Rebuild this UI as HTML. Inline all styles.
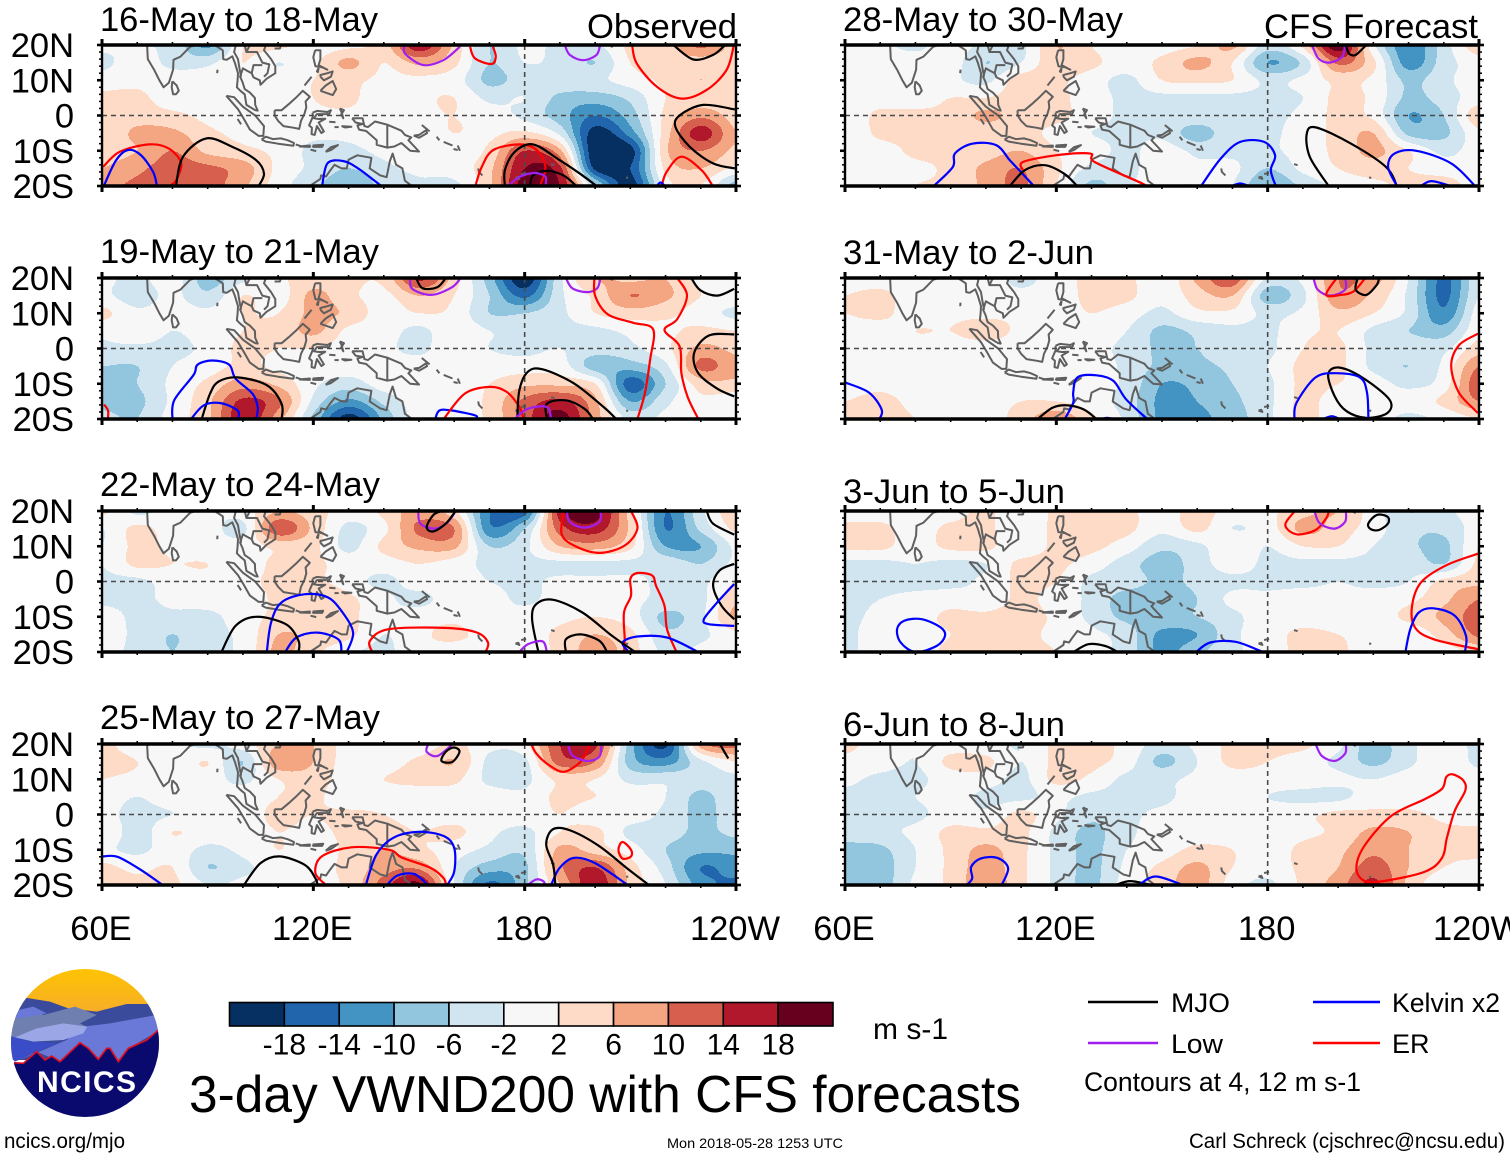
<!DOCTYPE html>
<html lang="en">
<head>
<meta charset="utf-8">
<title>3-day VWND200 with CFS forecasts</title>
<style>
html,body{margin:0;padding:0;background:#fff;width:1510px;height:1158px;overflow:hidden}
svg{display:block;font-family:"Liberation Sans",Arial,sans-serif;fill:#000}
</style>
</head>
<body>
<svg id="chart" xmlns="http://www.w3.org/2000/svg" width="1510" height="1158" viewBox="0 0 1510 1158">
<rect width="1510" height="1158" fill="#fff"/>
<defs><clipPath id="logoClip"><circle cx="85" cy="1043" r="74"/></clipPath>
<linearGradient id="sunGrad" x1="0" y1="0" x2="0" y2="1"><stop offset="0" stop-color="#ffc400"/><stop offset="1" stop-color="#f2a43a"/></linearGradient></defs>
<g id="panels"></g>
<g id="colorbar"></g>
<text x="873" y="1039" font-size="30" textLength="75" lengthAdjust="spacingAndGlyphs">m s-1</text>
<text x="189" y="1112" font-size="52" textLength="832" lengthAdjust="spacingAndGlyphs">3-day VWND200 with CFS forecasts</text>
<g>
<line x1="1088" x2="1158" y1="1002" y2="1002" stroke="#000" stroke-width="2.5"/>
<text x="1171" y="1012" font-size="27" textLength="59" lengthAdjust="spacingAndGlyphs">MJO</text>
<line x1="1088" x2="1158" y1="1043" y2="1043" stroke="#a020f0" stroke-width="2.5"/>
<text x="1171" y="1053" font-size="27" textLength="52" lengthAdjust="spacingAndGlyphs">Low</text>
<line x1="1313" x2="1380" y1="1002" y2="1002" stroke="#0000ff" stroke-width="2.5"/>
<text x="1392" y="1012" font-size="27" textLength="108" lengthAdjust="spacingAndGlyphs">Kelvin x2</text>
<line x1="1313" x2="1380" y1="1043" y2="1043" stroke="#ff0000" stroke-width="2.5"/>
<text x="1392" y="1053" font-size="27">ER</text>
<text x="1084" y="1091" font-size="27" textLength="277" lengthAdjust="spacingAndGlyphs">Contours at 4, 12 m s-1</text>
</g>
<text x="4" y="1148" font-size="21" textLength="121" lengthAdjust="spacingAndGlyphs">ncics.org/mjo</text>
<text x="667" y="1148" font-size="14" textLength="176" lengthAdjust="spacingAndGlyphs">Mon 2018-05-28 1253 UTC</text>
<text x="1189" y="1148" font-size="21" textLength="316" lengthAdjust="spacingAndGlyphs">Carl Schreck (cjschrec@ncsu.edu)</text>
<g>
<g clip-path="url(#logoClip)">
<g transform="translate(0,960) scale(0.3333)">
<rect x="30" y="20" width="450" height="200" fill="url(#sunGrad)"/>
<polygon fill="#3b4b9b" points="30,180 75,113 150,125 205,145 290,155 380,132 445,132 480,200 480,300 30,300"/>
<polygon fill="#6f7fb0" points="30,170 95,145 130,165 225,140 290,165 240,190 270,205 100,235 30,235"/>
<polygon fill="#6a78d8" points="55,150 100,140 140,160 40,178"/>
<polygon fill="#6a78d8" points="250,200 330,190 470,165 480,210 385,265 355,305 320,265 295,298 240,248 180,305 110,275 45,305 130,270 200,240"/>
<polygon fill="#9aa6e6" points="45,232 110,205 190,190 262,200 250,220 190,240 100,245"/>
<polygon fill="#3a4cc8" points="30,228 90,245 170,250 100,280 45,305 30,290"/>
<polygon fill="#0a0a6e" points="30,308 42,310 70,310 110,275 135,300 155,288 180,305 240,248 265,265 295,298 320,265 330,265 355,305 385,265 440,240 480,205 480,480 30,480"/>
<polyline fill="none" stroke="#e01020" stroke-width="5" points="42,308 70,310 110,275 135,300 155,288 180,305 240,248 265,265 295,298 320,265 330,265 355,305 385,265 440,240 478,208"/>
</g>
</g>
<text x="37" y="1092" font-size="30" font-weight="bold" fill="#fff" style="fill:#fff" textLength="99" lengthAdjust="spacing">NCICS</text>
</g>
</svg>
<script>
// ---- axis categories and tick labels
const gridLons = [60,70,80,90,100,110,120,130,140,150,160,170,180,190,200,210,220,230,240];
const gridLats = [20,15,10,5,0,-5,-10,-15,-20];
const xTickLons = [60,120,180,240];
const xTickLabels = ['60E','120E','180','120W'];
const yTickLats = [20,10,0,-10,-20];
const yTickLabels = ['20N','10N','0','10S','20S'];
const colorLevels = [-18,-14,-10,-6,-2,2,6,10,14,18];
const colorbarLabels = ['-18','-14','-10','-6','-2','2','6','10','14','18'];
const bandColors = ['#053061','#2166ac','#4393c3','#92c5de','#d1e5f0','#f7f7f7','#fddbc7','#f4a582','#d6604d','#b2182b','#67001f'];

// ---- shaded VWND200 anomalies (m/s), rows north to south
const field16May = [
[-1,-2,-3,-11,2,3,0,1,4,17,5,-6,-1,-3,-3,3,4,11,4],
[-3,0,-3,-3,2,-2,1,7,2,7,3,-6,-2,-3,-6,2,4,4,4],
[0,1,0,0,1,0,2,3,1,1,0,-7,-4,-3,-3,0,3,6,3],
[3,3,0,1,1,0,2,3,-1,1,2,-3,-2,-7,-8,-5,2,3,3],
[4,4,3,1,0,0,1,1,0,1,2,0,-3,-8,-14,-8,3,9,4],
[2,7,7,3,1,0,-1,-1,0,0,2,1,3,-3,-20,-12,4,16,6],
[4,6,10,5,3,1,-3,-3,-1,0,0,3,14,7,-22,-20,5,10,5],
[6,9,12,11,8,1,-3,-6,-3,-1,0,5,18,15,-19,-18,3,6,1],
[9,11,13,12,7,0,-5,-9,-5,-3,-3,5,20,18,-5,-20,0,2,-8]];
const field19May = [
[-1,-3,0,-8,-3,1,4,3,3,15,4,-8,-21,-3,6,5,6,1,1],
[-1,-4,-1,-5,2,0,7,3,1,6,2,-6,-15,-3,3,10,7,2,1],
[3,-1,0,-1,2,2,7,5,0,2,1,-6,-6,-3,2,4,3,0,-3],
[-1,1,-2,0,2,3,7,1,0,-3,1,-2,-3,-3,-3,-1,1,3,2],
[-3,-3,-3,-1,3,2,2,0,-1,-3,1,-2,-3,-2,-4,-3,1,7,5],
[-6,-6,-2,0,3,1,0,0,0,0,0,0,0,0,-8,-8,-3,11,7],
[-7,-6,-1,3,8,5,-1,-4,0,0,0,2,5,5,2,-16,-6,4,5],
[-7,-7,-1,5,15,11,-3,-11,-5,0,0,3,11,15,7,-10,-3,1,-1],
[-5,-6,0,5,17,8,-7,-20,-9,0,0,3,12,20,8,-3,-1,0,-1]];
const field22May = [
[3,-3,0,-1,0,6,4,0,3,8,3,-14,-16,16,20,4,-14,-3,5],
[-2,3,0,0,-3,13,5,-3,1,11,10,-13,-6,12,16,5,-14,-5,3],
[-2,3,1,0,0,3,3,-3,3,7,7,-6,-3,6,8,3,-10,-10,-1],
[-2,3,2,2,0,3,3,0,0,2,0,-3,-3,-3,-3,-3,-3,-6,-1],
[-3,-3,0,1,1,3,3,0,-3,0,0,-2,-3,-1,-1,-1,-3,-3,2],
[-3,-3,-1,0,0,3,6,3,-1,-3,0,0,-3,0,0,-1,-3,-3,5],
[0,-3,-3,-3,0,3,3,3,-1,0,1,-1,0,1,2,0,-7,-3,7],
[0,-3,-6,-3,-1,6,5,3,-2,1,3,0,0,3,6,3,-5,-3,1],
[-1,-3,-6,-3,-1,7,3,-1,-3,1,0,0,0,3,8,4,-3,-1,0]];
const field25May = [
[3,0,-1,-3,0,6,6,0,-2,-1,3,-1,1,14,15,-8,-19,8,12],
[3,2,-1,2,-6,9,6,0,0,3,6,-3,-3,12,10,-8,-12,-3,2],
[2,1,0,0,-3,2,4,0,2,3,3,-3,-3,3,2,-3,-3,-4,-3],
[0,-2,0,-1,0,2,3,-1,0,0,0,0,-1,3,2,0,-2,-7,-3],
[-1,-3,-2,0,0,3,2,3,2,0,0,0,0,2,0,0,-3,-7,-4],
[2,-4,2,0,0,2,1,3,4,2,3,-1,-3,2,3,-3,-4,-7,-5],
[-1,-3,0,-3,-1,2,0,3,6,3,0,-3,-5,7,4,0,-6,-9,-9],
[3,1,2,-6,-3,0,1,3,8,9,-2,-8,-7,9,14,4,-4,-14,-12],
[3,3,3,-2,-1,0,1,3,12,19,-2,-15,-7,6,17,5,-2,-12,-15]];
const field28May = [
[0,-1,-3,0,-3,-3,6,2,-2,0,2,7,-4,3,21,-1,-13,-4,5],
[0,0,0,0,-6,-2,5,3,0,3,7,2,-10,-5,11,3,-12,-4,0],
[0,0,0,-1,-3,4,3,0,-3,2,3,2,-3,-1,3,1,-7,-3,0],
[2,0,0,2,2,4,3,0,-3,-3,-3,-3,-3,-2,3,1,-7,-4,0],
[-1,3,3,3,7,4,3,0,-3,-3,-3,-3,-3,-1,3,1,-10,-6,5],
[-2,3,3,3,3,3,1,-2,-3,-3,-8,-3,-3,0,3,6,-7,-7,1],
[0,0,3,3,4,6,2,0,-3,0,-3,-3,-3,0,3,7,2,-3,0],
[0,0,1,3,7,10,3,-3,-3,0,-1,-1,-6,-1,2,4,2,0,0],
[0,0,2,3,7,11,2,-7,-3,1,2,-2,-10,-5,-1,1,3,4,0]];
const field31May = [
[0,0,0,0,0,-3,0,3,3,-1,7,13,-3,-1,10,8,-2,-15,-3],
[2,3,0,0,0,-1,0,3,3,-1,4,6,-8,-3,9,5,-3,-15,-2],
[2,3,0,1,1,1,0,2,0,-3,1,1,-3,-1,5,2,-3,-13,0],
[0,0,2,2,4,1,0,0,-2,-7,-5,-3,-3,1,2,-3,-6,-8,1],
[-1,0,0,0,0,0,0,-1,-3,-7,-6,-3,-3,2,3,-3,-3,-3,4],
[-1,0,-2,0,0,-1,0,0,-3,-7,-7,-5,-2,3,3,-3,-6,-1,10],
[0,1,0,0,0,0,0,0,-3,-10,-9,-6,-3,3,2,0,-3,0,13],
[2,3,1,0,0,2,2,0,-4,-11,-10,-7,-3,3,0,0,0,3,10],
[2,3,2,0,0,4,9,3,-3,-11,-11,-8,-3,3,0,0,-3,-1,2]];
const field3Jun = [
[0,0,0,0,3,-2,3,3,3,0,4,0,1,5,6,0,-6,-3,0],
[3,3,0,3,3,-1,3,3,3,-1,3,-2,0,7,4,0,-5,-5,0],
[3,3,0,3,3,-1,3,3,0,-5,-3,1,-2,2,2,-2,-5,-7,2],
[-3,-3,-2,-3,-2,3,3,0,-4,-8,-4,0,-3,-3,-3,-3,-3,-6,3],
[-3,-3,-3,-3,-1,3,2,-3,-4,-7,-5,-3,-3,-3,-2,-3,-2,3,5],
[-3,-2,-1,0,-1,3,0,-3,-8,-8,-6,-1,-1,0,-1,0,1,5,10],
[-3,-1,0,3,3,4,1,-3,-7,-7,-6,-3,0,0,-1,0,3,7,12],
[-3,0,0,2,3,3,1,-1,-4,-11,-10,-3,0,3,2,0,-1,4,11],
[-3,0,0,3,3,3,2,0,-4,-11,-7,-3,0,3,3,-1,-1,0,3]];
const field6Jun = [
[3,0,-2,0,-1,-2,3,3,1,-4,-1,3,3,3,-1,-8,-3,0,-3],
[1,0,-2,3,3,-2,3,3,0,-7,-2,3,2,0,-3,-7,-3,1,-3],
[-1,-3,-3,0,0,-3,3,1,-3,-3,-1,0,0,0,-1,-2,0,0,0],
[-3,-3,-2,0,-3,-3,-1,-3,-3,-3,0,0,-2,-3,-3,0,0,0,0],
[-3,-3,-3,0,-1,3,-1,-5,-3,-1,0,0,0,1,3,3,3,1,0],
[-3,-3,-1,3,3,3,-3,-7,-3,0,0,0,0,1,3,7,6,3,3],
[-8,-7,-2,3,7,3,-3,-7,-2,0,3,2,0,3,5,9,6,3,3],
[-8,-8,-2,3,8,3,-3,-7,-1,3,7,2,0,3,6,12,6,2,1],
[-7,-8,-1,3,9,3,-3,-7,0,4,8,0,-3,3,8,15,5,-1,0]];

// ---- contour series per panel: [type, [[lon,lat],...]]
const contours16May = [
['ER',[[60.3,-14.6],[65,-10.3],[73.5,-8.2],[79,-9.4],[82.5,-13.6],[81,-18.4],[79,-20]]],
['Kelvin',[[60.5,-20],[64,-12.7],[67.4,-9.8],[71,-11.2],[74.5,-16],[75.6,-20]]],
['MJO',[[81,-20],[83,-11.7],[89.6,-6.5],[97,-8.9],[103.8,-12.7],[106,-16.5],[104.5,-20]]],
['Kelvin',[[122.5,-20],[124,-13.6],[128.4,-12.9],[132.7,-15],[139.3,-20]]],
['Low',[[146,20],[146,17.6],[151.2,14.3],[156.9,15.7],[161.6,19.5]]],
['ER',[[164.5,19.5],[165.9,16.2],[170.6,14.6],[171.8,16.7],[171,19.5]]],
['Low',[[191.4,20],[192.8,17.2],[196.6,15.7],[200.4,17.2],[201.4,20]]],
['ER',[[210.5,20],[211.8,14.8],[217.5,8.2],[224.5,4.8],[231.6,7.2],[237.3,12.9],[239.4,20]]],
['MJO',[[222.2,20],[227.9,15.9],[233.5,17.2],[236.9,20]]],
['MJO',[[239.7,1.7],[230.7,3],[224.1,0.1],[222.8,-3.2],[226.9,-8.9],[233.5,-13.6],[239.7,-15]]],
['ER',[[218.9,-20],[220.3,-16],[224.5,-11.7],[230.2,-15.5],[233.4,-20]]],
['Kelvin',[[217.5,-20],[218.6,-19],[219.8,-20]]],
['ER',[[166,-20],[167.8,-14.6],[171.1,-9.8],[178.6,-8.2],[183.4,-9.8],[185.9,-14.6],[184.3,-20]]],
['MJO',[[174.4,-20],[174.4,-15.5],[177.2,-10.3],[182.4,-8.2],[190,-12.7],[195.7,-16.5],[200.4,-20]]],
['MJO',[[181.5,-20],[182.4,-17],[186.2,-15.7],[191,-17],[194.7,-20]]],
['Low',[[175.3,-20],[178.6,-17.4],[182.9,-16.3],[185.9,-17.4],[185.9,-20]]]];
const contours19May = [
['Kelvin',[[80,-20],[80.5,-14.7],[86,-7.5],[87.1,-4.6],[91.3,-3.4],[96.1,-4.6],[97.9,-8.5],[102.7,-12.8],[104.2,-16.6],[103.8,-20]]],
['MJO',[[88.3,-20],[90.7,-12.8],[93.1,-9.4],[98.5,-8.2],[106.8,-10.4],[111,-15.7],[111,-20]]],
['Kelvin',[[85.3,-20],[88.9,-16.1],[93.7,-15.5],[98.5,-17.6],[98.7,-20]]],
['ER',[[60.6,-15.9],[61.7,-17.6],[61.7,-20]]],
['Low',[[147.5,20],[148.1,16.9],[153.5,15.2],[159.4,17.4],[161.8,20]]],
['MJO',[[149.2,20],[151,17.1],[155.2,17.4],[157.6,20]]],
['Low',[[191.7,20],[193.5,17.1],[197.6,16],[200.6,17.1],[201.5,20]]],
['ER',[[199.8,20],[200,15],[203.6,9.7],[210.8,7.3],[216.5,5.4],[215.6,-3.2],[214.1,-12.8],[212,-20]]],
['ER',[[223.3,20],[226.1,15],[223.3,8.3],[219.7,5.2],[224,0.6],[224.5,-7],[226.3,-13.8],[229.3,-20]]],
['MJO',[[239.5,4],[232.3,3.7],[228.1,-1.3],[229.3,-7],[234.7,-11.4],[239.5,-13.6]]],
['MJO',[[227.3,20],[229.9,16.5],[234.7,15],[239.5,16.9]]],
['Kelvin',[[154.6,-20],[155.8,-17.6],[159.4,-17.6],[166,-19],[166,-20]]],
['ER',[[157,-20],[163,-12.8],[170.1,-10.9],[174.9,-12.3],[178.5,-16.6],[179.7,-20]]],
['MJO',[[177.9,-20],[178.5,-11.8],[180.9,-6.6],[185.1,-5.9],[194,-9.9],[202.4,-16.6],[206,-20]]],
['MJO',[[186.3,-20],[186.3,-15.7],[191.7,-14.7],[197,-17.1],[199.4,-20]]],
['Low',[[177.1,-20],[180.9,-17.1],[186.3,-16.6],[187.5,-20]]]];
const contours22May = [
['Low',[[149.8,20],[150.4,16.4],[154.6,15],[158.2,16.9],[160.4,20]]],
['MJO',[[160.4,20],[157.6,16.4],[154,14.2],[152.2,15.4],[154,18.8],[156.4,20]]],
['Low',[[192,20],[192.8,16.9],[197,15.3],[201.2,16.9],[201.6,20]]],
['ER',[[191.1,20],[190.5,13.5],[194,10.2],[201.2,8.1],[208.4,10.2],[212,15],[210.2,20]]],
['MJO',[[231.7,20],[233.5,16.4],[239.5,13.3]]],
['MJO',[[239.5,5],[235.3,3.1],[233.5,-1.2],[235.9,-6.9],[239.5,-10.7]]],
['Kelvin',[[239.5,-0.7],[234.7,-5.9],[230.9,-10.7],[232.3,-12.1],[239.5,-12.6]]],
['ER',[[223.1,-20],[220.4,-13.5],[219.7,-6.9],[217.3,-1.2],[216.2,1.7],[212,2.4],[210,0.7],[210.2,-4],[208.2,-8.8],[208.4,-16.4],[208.2,-20]]],
['Kelvin',[[209.6,-20],[207.8,-17.3],[212,-15.6],[220.4,-15.9],[228.7,-19.7]]],
['MJO',[[183.9,-20],[182.1,-10.7],[183.3,-6.4],[188.1,-5.2],[196.4,-8.8],[204.8,-15.4],[211.4,-20]]],
['MJO',[[191.7,-20],[191.7,-16.4],[195.9,-15],[201.2,-16.8],[203.4,-20]]],
['Low',[[178.5,-20],[180.9,-17.8],[185.1,-17],[186.3,-20]]],
['Kelvin',[[106.8,-20],[108,-11.6],[111,-5.9],[117.6,-3.6],[124.1,-4.5],[128.3,-8.8],[131.3,-14.5],[129.5,-20]]],
['Kelvin',[[112,-20],[115.2,-15.9],[121.2,-14.5],[127.1,-16.4],[128,-20]]],
['MJO',[[93.9,-20],[97.9,-12.6],[103.8,-10],[112.2,-12.1],[115.8,-16.8],[115.8,-20]]],
['ER',[[136.7,-20],[136.1,-16.8],[141.5,-13.5],[158.2,-13.2],[166.5,-14.5],[169.6,-17.3],[168.9,-20]]]];
const contours25May = [
['Kelvin',[[60.2,-11.9],[64.4,-12],[71,-15.7],[77.2,-20]]],
['MJO',[[100.3,-20],[105,-13.8],[110.4,-11.9],[117.6,-14.3],[120.6,-18.1],[121.2,-20]]],
['ER',[[123.6,-20],[120.6,-16.6],[122.4,-11.9],[130.8,-9.3],[141.5,-10],[145.1,-12.2],[153.4,-15.2],[157,-18.1],[157.6,-20]]],
['Kelvin',[[134.9,-20],[137.9,-11.4],[142.7,-6.6],[149.8,-4.9],[157,-6.1],[160,-9.5],[160,-16.2],[158,-20]]],
['Kelvin',[[140.9,-20],[143.9,-17.3],[148.7,-16.9],[152.5,-20]]],
['Low',[[152.6,20],[152.2,17.8],[155.2,16.6],[159.6,20]]],
['MJO',[[156.4,15.2],[159.4,14.9],[161.5,17.8],[159.9,19],[157.6,17.8],[156.4,15.2]]],
['ER',[[181.9,20],[183.3,17.3],[186.9,14],[191.1,12.1],[195.3,14.4],[197.1,16.8],[198.6,20]]],
['Low',[[192.3,20],[193.5,16.8],[197.7,15.2],[201.2,16.4],[201.8,20]]],
['MJO',[[235.4,20],[237.8,15.9]]],
['Kelvin',[[187.5,-20],[189.9,-15.2],[194,-12.3],[200,-13.8],[209,-19.8]]],
['MJO',[[188.7,-20],[188.1,-14.3],[186.1,-8.5],[188,-4.2],[192.9,-4.5],[201.2,-9],[209.6,-15.7],[215.3,-20]]],
['ER',[[207.8,-7.8],[210.2,-10],[210.2,-11.9],[207.8,-12.5],[206.6,-10],[207.8,-7.8]]],
['Low',[[180.9,-20],[183.3,-18.4],[185.4,-19],[185.6,-20]]]];
const contours28May = [
['Kelvin',[[85.2,-20],[90.6,-14.6],[91.2,-10.8],[96.1,-8],[102.9,-8.4],[106.8,-12.7],[109.9,-16],[113.6,-20]]],
['MJO',[[106.8,-20],[111.1,-15.5],[116.7,-14.1],[122.2,-16.5],[125.9,-20]]],
['ER',[[110.5,-15.5],[110.5,-13.2],[119.8,-11.3],[129.6,-10.8],[130.9,-13.2],[144.4,-19.3],[144.8,-20]]],
['Kelvin',[[161.1,-20],[166.7,-12.2],[172.2,-7.5],[179,-7.5],[182.1,-11.3],[180.9,-15.5],[182.3,-20]]],
['MJO',[[197.3,-20],[192,-11.8],[191.1,-5.1],[193.8,-3.4],[203.7,-8],[213.6,-14.6],[216.7,-20]]],
['Kelvin',[[216.7,-20],[214.2,-14.6],[216,-10.8],[222.2,-10],[232.1,-13.6],[238.9,-20]]],
['Kelvin',[[223.5,-20],[226.5,-18.6],[232,-20]]],
['Kelvin',[[169.8,-20],[172.2,-19.3],[174.7,-20]]],
['Low',[[192.6,20],[194.4,16.2],[197.5,15],[201.2,16.7],[201.9,20]]],
['MJO',[[202.2,20],[203.1,17.6],[205,17.2],[208,20]]]];
const contours31May = [
['Low',[[193,20],[194.2,16.7],[197.8,15],[202,16.7],[202,20]]],
['ER',[[199.6,20],[196.6,15.2],[200.8,15.2],[204.4,16.2],[207.7,20]]],
['MJO',[[205.6,20],[205,16.7],[208,15.2],[211,18.1],[211.6,20]]],
['MJO',[[197.2,-7.3],[200.2,-5.4],[206.8,-8.2],[214.5,-14.4],[214,-18.3],[208,-19.7],[202.4,-17.8],[199,-13.5],[197.2,-7.3]]],
['Kelvin',[[187.6,-20],[188.2,-15.4],[193.6,-8.2],[199.6,-7],[206.2,-8.2],[208.2,-12.5],[208.6,-20]]],
['Kelvin',[[195.8,-20],[198.2,-19.2],[200.4,-20]]],
['ER',[[239.7,4.2],[234.3,0.9],[232.1,-4.9],[234.3,-12.5],[239.7,-18.3]]],
['Kelvin',[[60.2,-9.7],[66.8,-12.5],[70.4,-17.3],[69.8,-20]]],
['Kelvin',[[145.8,-20],[139.8,-14.4],[136.2,-9.2],[131.4,-7.6],[126,-8.2],[124.8,-12.5],[124.8,-15.4],[122.4,-20]]],
['MJO',[[114.7,-20],[118.9,-16.8],[123,-16.1],[127.8,-17.3],[131.4,-20]]],
['Kelvin',[[132.8,-20],[134.4,-19.7],[136.2,-20]]]];
const contours3Jun = [
['ER',[[187.7,20],[185,16],[188.2,13.4],[193.6,14.6],[196.6,17.9],[197.4,20]]],
['Low',[[193.3,20],[194.8,16.5],[199,15],[202,17],[202.2,20]]],
['MJO',[[208.6,16.5],[211,18.9],[214,18.4],[214.2,16.5],[211.6,14.6],[209.2,14.9],[208.6,16.5]]],
['ER',[[239.7,7.9],[230.7,4.6],[223.6,-0.2],[221,-6.9],[221.8,-13],[227.2,-16.4],[239.7,-19.2]]],
['Kelvin',[[219.1,-20],[220.5,-13.5],[222.9,-8.8],[227.1,-7.6],[233.1,-9.7],[236.3,-15.4],[236,-20]]],
['Kelvin',[[74.8,-13.5],[76.9,-11.1],[81.8,-10.7],[87.1,-13],[88.4,-15.4],[86,-18.3],[80,-20],[75.8,-17.3],[74.8,-13.5]]],
['MJO',[[124.9,-20],[129.1,-17.8],[133.9,-18.3],[137.4,-20]]],
['Kelvin',[[159.7,-20],[163.7,-17.3],[170.9,-17.1],[178.6,-20]]]];
const contours6Jun = [
['Low',[[193.6,20],[195.4,16.6],[199,15.2],[202,17.3],[202.2,20]]],
['ER',[[205.2,-15.2],[207.4,-9],[215.1,-0.4],[224.7,4.4],[229.5,7.3],[230.7,10.6],[232.5,11.4],[235.5,9.7],[236.1,6.8],[233.1,1],[230.9,-6.6],[229.5,-12.3],[224.7,-16.2],[212.8,-18.9],[207.4,-18.8],[205.2,-15.2]]],
['Kelvin',[[94.6,-20],[96.1,-18.1],[95.8,-14.9],[98.5,-12.5],[103.3,-12.3],[106.3,-15.2],[104.5,-20]]],
['MJO',[[136.8,-20],[141,-18.9],[147,-20]]],
['Kelvin',[[143.4,-20],[148.2,-17.6],[155.9,-20]]]];

// ---- coastlines in lon/lat
const coastlines = [
[[72.8,20],[73,16],[74.8,13],[76.3,10],[77.5,8],[79,9.3],[80.2,13],[80.3,15.8],[82.3,16.7],[85,19.5],[86.5,20]],
[[80,9.7],[81.2,8.5],[81.8,7],[81,6],[80.2,6],[79.8,8],[80,9.7]],
[[92,20],[94.3,18.5],[94.4,16],[95.4,15.8],[97,16.8],[97.7,15],[98.6,12],[98.5,10],[98.3,8],[99.3,7],[100.5,6],[101,3],[103.5,1.5],[104.2,1.4],[103.5,3],[103.4,5],[102,6.5],[100.5,7.5],[99.9,9.5],[99.2,11],[100,13.4],[101,12.8],[102.5,12],[103,10.8],[104.8,10],[105,8.7],[106.7,10.4],[109.2,12],[109.2,14],[108,16],[106,18.5],[106.5,20]],
[[98,20],[97.5,18],[98.6,16],[99,13.5],[99.5,11]],
[[100.5,20],[101,18],[104,18],[105.5,15],[107.5,14.5],[107,12],[106,11]],
[[102.5,12],[103,14.3],[105.5,14.3]],
[[101,18],[102,20]],
[[109,19],[110.5,19],[110.8,20],[109,20]],
[[92.8,13],[92.7,12]],
[[120.5,18.5],[122,18.5],[122,16],[121.5,14.3],[124,13],[122.5,13.7],[120.6,14],[120,16.5],[120.5,18.5]],
[[121.5,13.5],[121,12.5],[121.3,12.3],[121.5,13.5]],
[[122,11],[123,10],[125,11],[125.5,12.5],[124,12],[122,11.5],[122,11]],
[[122,7],[125.5,5.8],[126.5,7.5],[125.5,9.8],[123.5,8.5],[122,7]],
[[117.5,8.5],[119.5,11]],
[[95.3,5.6],[97.5,5.2],[100,2.5],[103.5,0],[106,-3],[105.8,-5.8],[104.5,-5.8],[102,-4],[100.3,-1],[98.6,1.8],[95.3,5.6]],
[[98.5,-1],[99.5,-2.5]],
[[105.3,-6.8],[106.5,-6],[108.5,-6.7],[110.8,-6.5],[112.7,-7],[114.5,-7.8],[114.3,-8.6],[110,-8],[106.5,-7.4],[105.3,-6.8]],
[[115,-8.2],[116.5,-8.7],[119,-8.5]],
[[116,-8.8],[119,-8.9],[119,-8.3]],
[[119.8,-8.5],[122.8,-8.3],[122.5,-8.9],[120,-8.9],[119.8,-8.5]],
[[123.5,-10.3],[125,-9],[127,-8.4],[125,-9.8],[123.5,-10.3]],
[[119.2,-9.7],[120.8,-10.1]],
[[109,1.5],[111,1.5],[113,3.2],[115,5],[117,7],[119,5.3],[117.8,4],[118,2.3],[117.5,0.5],[116.5,-1.5],[116,-3.8],[114.5,-3.5],[111.5,-3],[110,-1.5],[109,0],[109,1.5]],
[[119.8,0.8],[121,1.3],[124,1],[125,1.5],[124.5,0.4],[121,0.4],[120.2,-0.8],[121.5,-1],[123.4,-0.9],[121.5,-2],[123,-4.5],[122.3,-5],[121,-3],[120.4,-5.5],[119.5,-5.3],[119.6,-3.5],[118.8,-2.8],[119.8,-0.5],[119.8,0.8]],
[[127.5,2],[128,1],[128.5,-0.8],[127.9,0.3],[128.7,1.5],[127.5,2]],
[[126,-3.3],[127.2,-3.3]],
[[128,-3],[130.8,-3.2],[129,-3.4],[128,-3]],
[[124.5,-1.8],[126.3,-1.9]],
[[131,-0.8],[134,-0.8],[134.5,-3],[135.5,-3.3],[137.5,-1.7],[141,-2.6],[145,-4.3],[146,-5.5],[147.8,-6.2],[147,-7],[150,-10.2],[147.5,-10],[145,-7.8],[143,-8.8],[141,-9.1],[138,-8.3],[138,-7],[135,-4.4],[133,-4],[132.5,-2.8],[134,-2.4],[132,-2],[131,-0.8]],
[[141,-2.6],[141,-9.1]],
[[148.5,-5.7],[150,-5.5],[152,-4.2],[152.3,-5],[150,-6.3],[148.5,-5.7]],
[[150.8,-2.7],[153,-4.5]],
[[155,-6],[155.8,-7]],
[[157,-7.5],[159.5,-8.5]],
[[159.8,-9.5],[161,-9.8]],
[[161,-8.5],[161.6,-10]],
[[119,-20],[122,-18],[122.2,-17],[123.6,-17.3],[124.5,-16],[126,-14],[128,-15],[129.5,-15],[130,-12.5],[132.5,-11.3],[136.5,-12],[136,-15],[139,-17],[140.8,-17.5],[141.7,-13],[142.5,-10.8],[143.5,-14],[145.3,-15],[146,-18.5],[148,-20]],
[[166.8,-15],[167,-16],[168,-17]],
[[177.4,-17.6],[178.5,-18],[178.2,-17.4],[177.4,-17.6]],
[[179,-16.6],[180.4,-16.3]],
[[187.5,-13.8],[188.5,-14.1]],
[[204,20],[205,19.4]],
[[208.8,-17.6],[209.4,-17.7]]
];

// ---- panel headers and order
const panelTitles = ['16-May to 18-May','19-May to 21-May','22-May to 24-May','25-May to 27-May','28-May to 30-May','31-May to 2-Jun','3-Jun to 5-Jun','6-Jun to 8-Jun'];
const panelFields = [field16May,field19May,field22May,field25May,field28May,field31May,field3Jun,field6Jun];
const panelContours = [contours16May,contours19May,contours22May,contours25May,contours28May,contours31May,contours3Jun,contours6Jun];
const contourColors = {MJO:'#000000',Low:'#a020f0',Kelvin:'#0000ff',ER:'#ff0000'};

const NS = 'http://www.w3.org/2000/svg';
const PW = 634, PH = 141;
const titleWidths = [278,279,280,280,280,251,222,222];
const titleBaselines = [31,263,496,729,31,264,503,736];
const svgRoot = document.getElementById('chart');
const defs = svgRoot.querySelector('defs');
const panelsRoot = document.getElementById('panels');

function make(tag, attrs, parent) {
  const el = document.createElementNS(NS, tag);
  for (const k in attrs) el.setAttribute(k, attrs[k]);
  if (parent) parent.appendChild(el);
  return el;
}
function cubic(a, b, c, d, t) {
  return b + 0.5 * t * (c - a + t * (2 * a - 5 * b + 4 * c - d + t * (3 * (b - c) + d - a)));
}
function sampleField(f, lon, lat) {
  const nc = gridLons.length, nr = gridLats.length;
  const gx = Math.min(nc - 1.0001, Math.max(0, (lon - gridLons[0]) / (gridLons[1] - gridLons[0])));
  const gy = Math.min(nr - 1.0001, Math.max(0, (gridLats[0] - lat) / (gridLats[0] - gridLats[1])));
  const ix = Math.floor(gx), iy = Math.floor(gy), tx = gx - ix, ty = gy - iy;
  const col = [];
  for (let r = -1; r <= 2; r++) {
    const row = f[Math.min(nr - 1, Math.max(0, iy + r))];
    col.push(cubic(row[Math.max(0, ix - 1)], row[ix], row[Math.min(nc - 1, ix + 1)], row[Math.min(nc - 1, ix + 2)], tx));
  }
  return cubic(col[0], col[1], col[2], col[3], ty);
}
function bandOf(v) {
  let i = 0;
  while (i < colorLevels.length && v >= colorLevels[i]) i++;
  return i;
}
function smoothPath(pts, xs, ys) {
  const closed = pts.length > 2 && pts[0][0] === pts[pts.length - 1][0] && pts[0][1] === pts[pts.length - 1][1];
  const p = pts.map(q => [xs(q[0]), ys(q[1])]);
  const n = p.length;
  const at = i => closed ? p[((i % (n - 1)) + (n - 1)) % (n - 1)] : p[Math.max(0, Math.min(n - 1, i))];
  let d = 'M' + p[0][0].toFixed(1) + ' ' + p[0][1].toFixed(1);
  for (let i = 0; i < n - 1; i++) {
    const a = at(i - 1), b = at(i), c = at(i + 1), e = at(i + 2);
    d += 'C' + (b[0] + (c[0] - a[0]) / 6).toFixed(1) + ' ' + (b[1] + (c[1] - a[1]) / 6).toFixed(1) + ' ' +
      (c[0] - (e[0] - b[0]) / 6).toFixed(1) + ' ' + (c[1] - (e[1] - b[1]) / 6).toFixed(1) + ' ' +
      c[0].toFixed(1) + ' ' + c[1].toFixed(1);
  }
  return d;
}
function drawPanel(index) {
  const colIdx = index < 4 ? 0 : 1, rowIdx = index % 4;
  const x0 = colIdx === 0 ? 102 : 845, y0 = 45 + rowIdx * 233;
  const xs = lon => x0 + (lon - 60) * PW / 180;
  const ys = lat => y0 + (20 - lat) * PH / 40;
  const clipId = 'panelClip' + index;
  const cp = make('clipPath', {id: clipId}, defs);
  make('rect', {x: x0, y: y0, width: PW, height: PH}, cp);

  const g = make('g', {}, panelsRoot);
  
  

  // shaded field: runs of pixels merged per colour band
  const shade = make('g', {'shape-rendering': 'crispEdges'}, g);
  
  
  const field = panelFields[index];
  const bandPaths = bandColors.map(() => []);
  for (let py = 0; py < PH; py++) {
    const lat = 20 - (py + 0.5) * 40 / PH;
    let start = 0, cur = bandOf(sampleField(field, 60, lat));
    for (let px = 1; px <= PW; px++) {
      const b = px < PW ? bandOf(sampleField(field, 60 + (px + 0.5) * 180 / PW, lat)) : -1;
      if (b !== cur) {
        bandPaths[cur].push('M' + (x0 + start) + ' ' + (y0 + py) + 'h' + (px - start) + 'v1h-' + (px - start) + 'z');
        start = px; cur = b;
      }
    }
  }
  bandPaths.forEach((parts, b) => {
    if (!parts.length) return;
    const band = make('path', {d: parts.join(''), fill: bandColors[b]}, shade);
    
    
  });

  const inner = make('g', {'clip-path': 'url(#' + clipId + ')'}, g);

  const coast = make('g', {fill: 'none', stroke: '#5f5f5f', 'stroke-width': 2, 'stroke-linejoin': 'round'}, inner);
  
  
  coastlines.forEach(line => {
    const pl = make('polyline', {points: line.map(q => xs(q[0]).toFixed(1) + ',' + ys(q[1]).toFixed(1)).join(' ')}, coast);
    
    
  });

  const eq = make('line', {x1: x0, x2: x0 + PW, y1: ys(0), y2: ys(0), stroke: '#4a4a4a', 'stroke-width': 1.6, 'stroke-dasharray': '5 4'}, inner);
  
  
  const dl = make('line', {x1: xs(180), x2: xs(180), y1: y0, y2: y0 + PH, stroke: '#4a4a4a', 'stroke-width': 1.6, 'stroke-dasharray': '5 4'}, inner);
  
  

  panelContours[index].forEach(c => {
    const path = make('path', {d: smoothPath(c[1], xs, ys), fill: 'none', stroke: contourColors[c[0]], 'stroke-width': 2.2}, inner);
    
    
  });

  // ticks and frame
  const ticks = make('g', {stroke: '#000', fill: 'none'}, g);
  
  
  for (let lon = 60; lon <= 240; lon += 10) {
    const major = xTickLons.indexOf(lon) >= 0, len = major ? 6 : 3, w = major ? 3 : 1.6;
    make('line', {x1: xs(lon), x2: xs(lon), y1: y0 - len, y2: y0, 'stroke-width': w}, ticks);
    make('line', {x1: xs(lon), x2: xs(lon), y1: y0 + PH, y2: y0 + PH + len, 'stroke-width': w}, ticks);
  }
  for (let lat = -20; lat <= 20; lat += 2) {
    const major = yTickLats.indexOf(lat) >= 0, len = major ? 5 : 3, w = major ? 2.6 : 1.5;
    make('line', {x1: x0 - len, x2: x0, y1: ys(lat), y2: ys(lat), 'stroke-width': w}, ticks);
    make('line', {x1: x0 + PW, x2: x0 + PW + len, y1: ys(lat), y2: ys(lat), 'stroke-width': w}, ticks);
  }
  const frameTop = make('line', {x1: x0 - 1, x2: x0 + PW + 1, y1: y0, y2: y0, stroke: '#000', 'stroke-width': 3.6}, g);
  
  
  const frameBottom = make('line', {x1: x0 - 1, x2: x0 + PW + 1, y1: y0 + PH, y2: y0 + PH, stroke: '#000', 'stroke-width': 3.6}, g);
  
  
  const frameLeft = make('line', {x1: x0, x2: x0, y1: y0, y2: y0 + PH, stroke: '#000', 'stroke-width': 2.4}, g);
  
  
  const frameRight = make('line', {x1: x0 + PW, x2: x0 + PW, y1: y0, y2: y0 + PH, stroke: '#000', 'stroke-width': 2.4}, g);
  
  

  // text
  const title = make('text', {x: colIdx === 0 ? 100 : 843, y: titleBaselines[index], 'font-size': 34.5, textLength: titleWidths[index], lengthAdjust: 'spacingAndGlyphs'}, g);
  title.textContent = panelTitles[index];
  
  

  if (colIdx === 0) {
    yTickLats.forEach((lat, i) => {
      const t = make('text', {x: 74, y: ys(lat) + 12, 'font-size': 34.5, 'text-anchor': 'end'}, g);
      t.textContent = yTickLabels[i];
      
      
    });
  }
  if (rowIdx === 3) {
    xTickLons.forEach((lon, i) => {
      const t = make('text', {x: xs(lon) - 1, y: 940, 'font-size': 34.5, 'text-anchor': 'middle'}, g);
      t.textContent = xTickLabels[i];
      
      
    });
  }
}
panelTitles.forEach((_, i) => drawPanel(i));

const obs = make('text', {x: 587, y: 38, 'font-size': 34.5, textLength: 150, lengthAdjust: 'spacingAndGlyphs'}, panelsRoot);
obs.textContent = 'Observed';


const cfs = make('text', {x: 1264, y: 38, 'font-size': 34.5, textLength: 214, lengthAdjust: 'spacingAndGlyphs'}, panelsRoot);
cfs.textContent = 'CFS Forecast';



// colour bar
const cbRoot = document.getElementById('colorbar');
const cbX = 229.5, cbW = 603.5 / bandColors.length;
bandColors.forEach((c, i) => {
  const r = make('rect', {x: cbX + i * cbW, y: 1002.5, width: cbW, height: 23.5, fill: c, stroke: '#000', 'stroke-width': 1.6}, cbRoot);
  
  
});
colorbarLabels.forEach((label, i) => {
  const t = make('text', {x: cbX + (i + 1) * cbW, y: 1054.5, 'font-size': 30, 'text-anchor': 'middle'}, cbRoot);
  t.textContent = label;
  
  
});
</script>
</body>
</html>
